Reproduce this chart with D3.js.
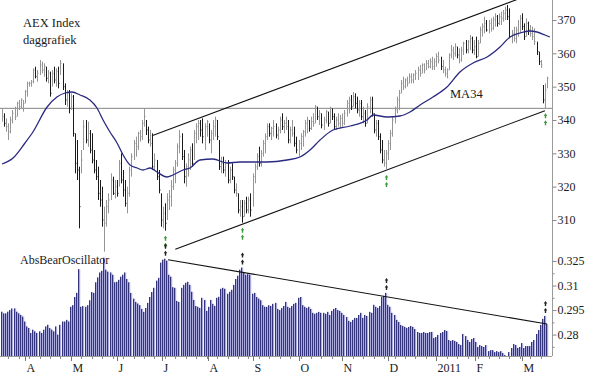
<!DOCTYPE html>
<html>
<head>
<meta charset="utf-8">
<title>AEX Index daggrafiek</title>
<script src="https://cdn.jsdelivr.net/npm/d3@7"></script>
<style>
  body { margin: 0; background: #fff; }
  svg text { font-family: "Liberation Serif", "Times New Roman", serif; fill: #1a1a1a; }
</style>
</head>
<body>
<script>
// daily bars, index 0 = 17 mrt 2010 ... 261 = 17 mrt 2011
var hi = [
  343.5,342,340.5,339,341,343,344,345.5,346,346.5,
  346,349,351.5,351.5,352,355.5,356,355,358,357.5,
  357,356,355,354.5,355,356,355.5,356,358,357,
  351,349,349,348,347.5,336,334,326,331,340,
  340,339.5,337,336,331,328,326,322,320,314,
  316,318,324,323,322,322,328,330,325,322,
  320,326,330,334,335,336.5,337,340,343.6,340,
  338,337,336,330,328,325,318,314,315,318,
  319,322,326,328,333,337,336,331,327,330,
  332,333,337,339,340,340,340.5,339,340,339,
  337,340,341,340,334,329,329,328,328,326,
  327,323,321,318,316,316,316,317,317,318,
  324,327,330,332,331,334,336,339,339,338,
  340,339,338,341,342,340,341,340,338,340,
  338,335,334,336,337,340,341,340,341,342,
  344.5,344,343,342,341,343,342.5,344,343.5,342,
  341,342,341.5,342,343,346,347,347.5,348.4,348,
  347,346,346,344,343,345,347,347,342,340,
  340,336,334,331,331,334,337,341,344,347,
  349,352,353,352.5,353,354,354,354,355,356,
  356.5,357,357,358,358,358.5,359,358.5,360,360.5,
  359,358,356,355.5,360,362.5,362,363,362,361.5,
  362,363.5,364,364,365.5,365,364,365,364,368,
  369,371,370,370,370.5,371,372,371.5,372,372.5,
  373,374,374.5,373.5,367,368,368,370,371.5,372,
  369,370.5,369.5,368.5,368,367.5,363.5,360.5,358,350.5,351,353
];
var lo = [
  339.5,338,336.5,334,336,339,340,341,343,343.5,
  342.5,345,347,350,350,351,352.5,351.5,353.5,354,
  353,351.5,351,347,350,351,350,349.5,353.5,349,
  344.5,344,342,343,335,324,322,307.5,324,331,
  333,332,330,327,324,322,316,314,308,300.5,
  308,312,316,317.5,316.5,317,320,321,317,314,
  312,317,323,328,329,331,333.5,334,338,335.5,
  333,332,325,325,322,318,308,307.5,306.8,310,
  313,314,319,321,326,330,328,321,320,323,
  325,326,328,333,334,335,333,331,335,333,
  330,334,335,334,325,324,324,323,321,321,
  322,318,317,312,311,309.2,311,312,312,311,
  314,321,325,326,326,329,330,334,335,334,
  335,334.5,334,336,337,336,337,333,333,335,
  332,330,329,331,332,335,336,336.5,337,338,
  339,340,338.5,337.5,337,339,338,339,340,337,
  337,338,337.5,338,338.5,341,342,343,344,343.5,
  342,341,340,339,338,339,342,341,336,335,
  334,330,327,326,325,328,331,335,339,342,
  343,348,349,349.5,350,351,351,351,352,352,
  353,354,354,355,355.5,355.5,355,355,356,357,
  355,354,353,352.5,355,358.5,358,359,358.5,357,
  357.5,359.5,360,360,361,360,359.5,358.5,359,363,
  365,366,366.5,366,366.5,367,368,368,368.5,368.5,
  369.5,370,370,364.5,363,363.5,363,365,366,367,
  364,365,365.5,365,364,362.5,359.5,356.5,355.6,345,343.5,349.5
];
var cl = [
  341,339,338,336.5,340,342,341,345,344,346,
  345,348.5,351,351,351.5,355,353,354,356.5,355,
  356,352.5,354,348,354,352,354.5,351,357,350,
  346,348,343.5,347,336,327,325,314,328,338,
  334,336,331,328,325,323,318,316,310,309,
  314,316,322,318,320,318,327,322,319,315,
  318,325,329,333,332,336,335,339,341,337,
  334,333,326,328,323,319,310,312,309,316,
  317,320,325,327,332,335,329,323,326,328,
  331,327,336,338,339,337,335,338,339.5,334,
  336,338,340,335,326,327,325,327,322,325,
  323,319,318,313,314,311,315,313,316,313,
  323,326,329,327,330,333,335,338,336,337.5,
  338,335.5,337,340,338,339,338,334,337,336,
  333,331,333,335,336.5,339,340,337.5,339.5,339,
  344,341,342,338.5,340,342.5,339,343.5,341,338,
  340,339,340.5,339,342,345,346,344,347,345,
  343,345,341,342,339,344,346,342,337,339,
  335,331,328,327,330,333,336,340,343,346,
  348,351,350,352,351,353,352,353.5,354,355,
  354,356.5,355,357,356,357.5,356,357.5,359,358,
  356,355,354,355,359.5,361,360,362,359.5,358,
  361,363,361,363.5,364.5,361,362,359,363,367,
  368,369,367,369,367.5,370,371,369,371,370.5,
  372,373,371,365,366,364.5,367,366,370.5,368,
  365,369,367,366,365,363.5,360.5,357.5,356.5,346,349,352.5
];
var osc = [
  .294,.293,.293,.294,.295,.296,.296,.294,.293,.292,
  .291,.288,.285,.284,.281,.283,.282,.281,.282,.281,
  .283,.285,.286,.284,.283,.282,.285,.280,.286,.288,
  .288,.289,.288,.297,.298,.303,.3055,.320,.297,.2975,
  .297,.298,.301,.306,.3055,.312,.315,.318,.319,.327,
  .3197,.3185,.318,.3166,.312,.3123,.3135,.3154,.3166,.318,
  .314,.312,.3055,.302,.300,.299,.298,.2957,.2939,.2963,
  .2994,.303,.306,.3086,.313,.3147,.324,.3258,.3264,.3252,
  .3166,.3154,.309,.3086,.3006,.300,.3086,.3104,.3117,.3123,
  .3104,.3062,.3012,.2975,.297,.2963,.3025,.3012,.2945,.297,
  .3012,.2988,.2975,.3025,.3031,.308,.3086,.308,.305,.3062,
  .3074,.3104,.314,.316,.3197,.321,.318,.3166,.317,.3166,
  .305,.3055,.303,.302,.301,.298,.297,.297,.298,.2975,
  .2988,.2994,.2957,.295,.2963,.2975,.300,.297,.2963,.2975,
  .2988,.2994,.3025,.303,.298,.297,.2963,.297,.2957,.2933,
  .2927,.2933,.2939,.2933,.2933,.2927,.2939,.292,.2945,.2957,
  .2963,.295,.2945,.2933,.292,.2908,.2884,.2877,.289,.2902,
  .2902,.292,.2933,.2902,.292,.2914,.2939,.2933,.2982,.297,
  .2963,.2975,.3031,.3037,.3055,.2982,.297,.2933,.292,.289,
  .2877,.2859,.2853,.2847,.2841,.2847,.2853,.2847,.2834,.2816,
  .281,.281,.2816,.281,.281,.2816,.2816,.2779,.2785,.2798,
  .281,.2816,.2828,.2822,.2767,.2761,.2767,.2761,.2755,.2742,
  .2736,.2804,.2791,.2767,.2755,.2773,.2779,.2755,.2724,.2736,
  .273,.2724,.2736,.2699,.2705,.2705,.2693,.2699,.2693,.2699,
  .2687,.2675,.2666,.2693,.2718,.2742,.2736,.2718,.2724,.2748,
  .2718,.273,.273,.273,.2755,.2767,.2804,.2828,.2859,.2896,.2914,.2865
];

// MA34
var maIdx = [0,5.3,11,14.8,21.6,26.3,30.2,33.5,37.4,42.1,45.5,48.4,51.7,55.1,58,61.3,64.7,67.5,70.9,74.2,
  79,81.9,86.7,90,94.8,101,107.8,114,120.2,126.9,136.5,142.7,147.5,152.3,158.5,166.7,174.8,177.7,184.4,190.6,
  195.4,200.2,206.4,213.1,219.3,225.6,232.3,238.5,243.3,248.1,252.9,256.2,260,262.4];
var maVal = [326.8,328.6,333.1,336.4,343.9,346.9,348.1,348.4,347.5,346,343.6,340,336.4,333.1,329.5,326.5,325.6,325,325.6,324.4,
  322.9,323.5,325,325.6,328,328.3,327.1,327.4,327.4,327.4,328,328.9,331,334,337,338.2,340,341.5,340.9,341.2,
  342.4,344.5,346.9,349.9,354.4,357.1,358.9,361.9,364.9,366.1,366.7,366.4,365.5,364.9];

var monthLabels = ['A','M','J','J','A','S','O','N','D','2011','F','M'];
var monthIdx = [11,33,55,76.5,98.5,120,142,163,185,208,226.5,249];
var priceTicks = [310,320,330,340,350,360,370];
var oscTicks = [0.28,0.295,0.31,0.325];
var oscMinor = [0.2725,0.2875,0.3025,0.3175];
var signals = [78,115,184,260];
var support = 343.5;
var upperChannel = [[71.8,335.3],[249,376.7]];
var lowerChannel = [[83,301.2],[260,342.8]];
var oscTrend = [[79.5,0.3258],[261,0.2865]];

var width = 600, height = 375, axisX = 552, baseY = 356;

var x = d3.scaleLinear().domain([0, hi.length - 1]).range([2, 547]);
var yP = d3.scaleLinear().domain([340, 370]).range([120, 20]);
var yO = d3.scaleLinear().domain([0.28, 0.325]).range([334.6, 261]);

var svg = d3.select('body').append('svg')
    .attr('width', width)
    .attr('height', height);

// support line
svg.append('line')
    .attr('x1', 0).attr('x2', axisX)
    .attr('y1', yP(support)).attr('y2', yP(support))
    .attr('stroke', '#858585').attr('stroke-width', 1);

// channel
[upperChannel, lowerChannel].forEach(function(c){
    svg.append('line')
        .attr('x1', x(c[0][0])).attr('y1', yP(c[0][1]))
        .attr('x2', x(c[1][0])).attr('y2', yP(c[1][1]))
        .attr('stroke', '#111').attr('stroke-width', 1.1);
});

// price bars: black on clear down days, grey otherwise
var bars = svg.append('g');
hi.forEach(function(h, i){
    var down = i > 0 && cl[i] < cl[i-1] - 1.5;
    var col = down ? '#1a1a1a' : '#959595';
    var xx = Math.round(x(i)) + 0.5;
    bars.append('line')
        .attr('x1', xx).attr('x2', xx)
        .attr('y1', yP(h)).attr('y2', yP(lo[i]))
        .attr('stroke', col).attr('stroke-width', 1);
    bars.append('line')
        .attr('x1', xx).attr('x2', xx + 1)
        .attr('y1', yP(cl[i])).attr('y2', yP(cl[i]))
        .attr('stroke', col).attr('stroke-width', 1);
});

// MA34
var maLine = d3.line()
    .curve(d3.curveMonotoneX)
    .x(function(d){ return x(d[0]); })
    .y(function(d){ return yP(d[1]); });
svg.append('path')
    .attr('d', maLine(maIdx.map(function(d, k){ return [d, maVal[k]]; })))
    .attr('fill', 'none').attr('stroke', '#2a2a82').attr('stroke-width', 1.3);

// oscillator bars
var ob = svg.append('g');
osc.forEach(function(v, i){
    var xx = Math.round(x(i));
    ob.append('rect')
        .attr('x', xx - 1).attr('width', 1)
        .attr('y', yO(v)).attr('height', baseY - yO(v))
        .attr('fill', '#34347c');
    ob.append('rect')
        .attr('x', xx).attr('width', 1.2)
        .attr('y', yO(v)).attr('height', baseY - yO(v))
        .attr('fill', '#aaaadd');
});

svg.append('line')
    .attr('x1', x(oscTrend[0][0])).attr('y1', yO(oscTrend[0][1]))
    .attr('x2', x(oscTrend[1][0])).attr('y2', yO(oscTrend[1][1]))
    .attr('stroke', '#111').attr('stroke-width', 1.1);

// signal arrows
function arrow(cx, top){
    return 'M' + cx + ',' + top + 'l-1.8,2.6h1.1v2.4h1.4v-2.4h1.1z';
}
signals.forEach(function(i){
    var cx = Math.round(x(i)) + 0.5;
    var ly = yP(lo[i]);
    svg.append('path').attr('d', arrow(cx, ly + 5)).attr('fill', '#3c9a3c');
    svg.append('path').attr('d', arrow(cx, ly + 12)).attr('fill', '#3c9a3c');
    var oy = yO(osc[i]);
    svg.append('path').attr('d', arrow(cx, oy - 15)).attr('fill', '#222');
    svg.append('path').attr('d', arrow(cx, oy - 8)).attr('fill', '#222');
});

// texts
svg.append('text').attr('x', 23).attr('y', 27).style('font-size', '12.5px').text('AEX Index');
svg.append('text').attr('x', 23).attr('y', 44).style('font-size', '12.5px').text('daggrafiek');
svg.append('text').attr('x', 450).attr('y', 98).style('font-size', '12.5px').text('MA34');
svg.append('text').attr('x', 20).attr('y', 264).style('font-size', '12px').text('AbsBearOscillator');

// right axis
svg.append('line')
    .attr('x1', axisX + 0.5).attr('x2', axisX + 0.5)
    .attr('y1', 0).attr('y2', baseY)
    .attr('stroke', '#9a9a9a');

var axP = d3.axisRight(yP).tickValues(priceTicks).tickSize(4).tickPadding(1);
var gP = svg.append('g').attr('transform', 'translate(' + (axisX + 0.5) + ',0)').call(axP);
var axO = d3.axisRight(yO).tickValues(oscTicks).tickSize(4).tickPadding(1)
    .tickFormat(function(d){ return d3.format('.3~f')(d); });
var gO = svg.append('g').attr('transform', 'translate(' + (axisX + 0.5) + ',0)').call(axO);
var axOm = d3.axisRight(yO).tickValues(oscMinor).tickSize(2).tickFormat('');
var gOm = svg.append('g').attr('transform', 'translate(' + (axisX + 0.5) + ',0)').call(axOm);

[gP, gO, gOm].forEach(function(g){
    g.select('.domain').remove();
    g.selectAll('line').attr('stroke', '#8a8a8a');
    g.selectAll('text')
        .attr('font-family', '"Liberation Serif", "Times New Roman", serif')
        .attr('font-size', 12).attr('fill', '#222');
});

// bottom time axis
svg.append('line')
    .attr('x1', 0).attr('x2', axisX)
    .attr('y1', baseY + 0.5).attr('y2', baseY + 0.5)
    .attr('stroke', '#9a9a9a');

svg.append('g').selectAll('line.wk')
    .data(d3.range(3, hi.length, 5))
    .enter().append('line')
    .attr('x1', function(d){ return Math.round(x(d)) + 0.5; })
    .attr('x2', function(d){ return Math.round(x(d)) + 0.5; })
    .attr('y1', baseY).attr('y2', baseY + 3)
    .attr('stroke', '#8a8a8a');

var mt = svg.append('g').selectAll('g')
    .data(monthIdx)
    .enter().append('g')
    .attr('transform', function(d){ return 'translate(' + (Math.round(x(d)) + 0.5) + ',' + baseY + ')'; });
mt.append('line').attr('y1', 0).attr('y2', 5).attr('stroke', '#777');
mt.append('text')
    .attr('x', 1).attr('y', 16)
    .style('font-size', '12px')
    .text(function(d, k){ return monthLabels[k]; });
</script>
</body>
</html>
